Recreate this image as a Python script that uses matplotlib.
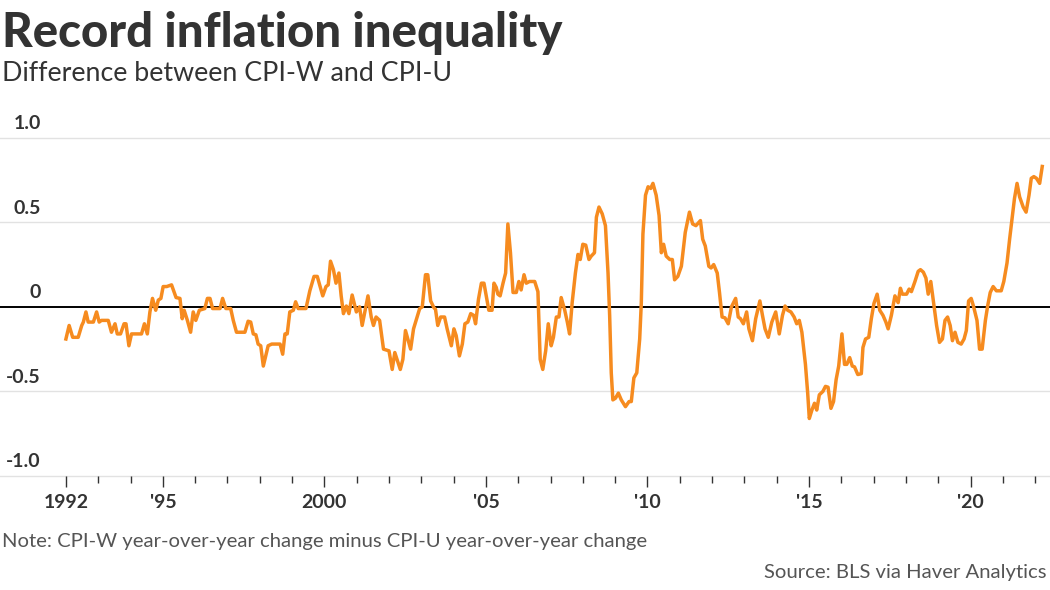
import matplotlib.pyplot as plt

# =========================================================
# Data: CPI-W yoy change minus CPI-U yoy change
# =========================================================
years = [
    1992.00, 1992.10, 1992.21, 1992.38, 1992.49, 1992.54, 1992.62, 1992.69, 1992.85, 1992.95,
    1993.03, 1993.10, 1993.31, 1993.41, 1993.52, 1993.59, 1993.69, 1993.80, 1993.86, 1993.95,
    1994.03, 1994.34, 1994.43, 1994.52, 1994.60, 1994.68, 1994.78, 1994.86, 1994.94, 1995.01,
    1995.12, 1995.27, 1995.41, 1995.53, 1995.60, 1995.66, 1995.76, 1995.86, 1995.94, 1996.02,
    1996.13, 1996.30, 1996.38, 1996.46, 1996.54, 1996.77, 1996.85, 1996.95, 1997.10, 1997.18,
    1997.28, 1997.54, 1997.64, 1997.72, 1997.80, 1997.88, 1997.95, 1998.03, 1998.11, 1998.26,
    1998.37, 1998.63, 1998.71, 1998.78, 1998.85, 1998.93, 1999.04, 1999.11, 1999.19, 1999.43,
    1999.55, 1999.68, 1999.78, 1999.95, 2000.05, 2000.12, 2000.19, 2000.28, 2000.36, 2000.45,
    2000.52, 2000.59, 2000.68, 2000.76, 2000.86, 2000.99, 2001.09, 2001.17, 2001.35, 2001.45,
    2001.52, 2001.60, 2001.71, 2001.83, 2002.00, 2002.10, 2002.18, 2002.35, 2002.43, 2002.51,
    2002.67, 2002.76, 2002.95, 2003.03, 2003.13, 2003.20, 2003.29, 2003.39, 2003.44, 2003.51,
    2003.60, 2003.72, 2003.80, 2003.93, 2004.01, 2004.08, 2004.18, 2004.27, 2004.35, 2004.44,
    2004.53, 2004.62, 2004.68, 2004.77, 2004.86, 2004.94, 2005.03, 2005.09, 2005.19, 2005.25,
    2005.32, 2005.37, 2005.44, 2005.53, 2005.61, 2005.68, 2005.76, 2005.84, 2005.94, 2006.02,
    2006.09, 2006.18, 2006.25, 2006.35, 2006.51, 2006.61, 2006.68, 2006.76, 2006.85, 2006.93,
    2007.02, 2007.09, 2007.18, 2007.26, 2007.33, 2007.44, 2007.52, 2007.59, 2007.67, 2007.77,
    2007.85, 2007.92, 2008.00, 2008.09, 2008.19, 2008.26, 2008.36, 2008.42, 2008.50, 2008.60,
    2008.70, 2008.78, 2008.83, 2008.88, 2008.93, 2009.01, 2009.10, 2009.19, 2009.32, 2009.43,
    2009.50, 2009.58, 2009.67, 2009.76, 2009.81, 2009.86, 2009.94, 2010.02, 2010.10, 2010.17,
    2010.27, 2010.36, 2010.43, 2010.50, 2010.58, 2010.69, 2010.77, 2010.84, 2010.94, 2011.05,
    2011.17, 2011.30, 2011.40, 2011.50, 2011.64, 2011.71, 2011.79, 2011.90, 2011.97, 2012.05,
    2012.16, 2012.23, 2012.31, 2012.40, 2012.50, 2012.60, 2012.73, 2012.81, 2012.88, 2012.97,
    2013.07, 2013.14, 2013.25, 2013.35, 2013.48, 2013.56, 2013.64, 2013.74, 2013.85, 2013.97,
    2014.08, 2014.18, 2014.26, 2014.34, 2014.44, 2014.54, 2014.62, 2014.70, 2014.78, 2014.89,
    2014.96, 2015.01, 2015.09, 2015.17, 2015.24, 2015.32, 2015.43, 2015.51, 2015.59, 2015.68,
    2015.76, 2015.84, 2015.92, 2016.02, 2016.10, 2016.17, 2016.26, 2016.34, 2016.41, 2016.51,
    2016.62, 2016.67, 2016.75, 2016.85, 2016.93, 2017.01, 2017.11, 2017.19, 2017.29, 2017.38,
    2017.45, 2017.55, 2017.66, 2017.76, 2017.83, 2017.89, 2018.02, 2018.10, 2018.17, 2018.28,
    2018.38, 2018.45, 2018.54, 2018.62, 2018.69, 2018.77, 2018.85, 2018.95, 2019.04, 2019.13,
    2019.21, 2019.29, 2019.37, 2019.44, 2019.52, 2019.61, 2019.71, 2019.80, 2019.87, 2019.94,
    2020.02, 2020.09, 2020.20, 2020.28, 2020.36, 2020.46, 2020.53, 2020.61, 2020.70, 2020.80,
    2020.95, 2021.03, 2021.13, 2021.21, 2021.29, 2021.36, 2021.44, 2021.52, 2021.63, 2021.72,
    2021.81, 2021.88, 2021.96, 2022.04, 2022.14, 2022.22,
]
values = [
    -0.19, -0.11, -0.18, -0.18, -0.11, -0.09, -0.03, -0.09, -0.09, -0.03,
    -0.09, -0.08, -0.08, -0.15, -0.10, -0.16, -0.16, -0.10, -0.10, -0.23,
    -0.16, -0.16, -0.10, -0.16, -0.03, 0.05, -0.02, 0.04, 0.05, 0.12,
    0.12, 0.13, 0.055, 0.05, -0.07, -0.02, -0.08, -0.15, -0.03, -0.08,
    -0.02, -0.01, 0.05, 0.05, -0.01, -0.01, 0.05, -0.01, -0.01, -0.08,
    -0.15, -0.15, -0.085, -0.09, -0.16, -0.165, -0.22, -0.23, -0.35, -0.23,
    -0.22, -0.22, -0.28, -0.16, -0.16, -0.03, -0.02, 0.03, -0.01, -0.01,
    0.095, 0.18, 0.18, 0.065, 0.12, 0.13, 0.27, 0.22, 0.14, 0.20,
    0.065, -0.04, 0.005, -0.04, 0.07, -0.03, 0.0, -0.11, 0.065, -0.06,
    -0.11, -0.06, -0.08, -0.25, -0.26, -0.37, -0.27, -0.37, -0.31, -0.14,
    -0.25, -0.13, -0.01, 0.0, 0.19, 0.19, 0.035, -0.005, -0.015, -0.11,
    -0.06, -0.06, -0.13, -0.23, -0.13, -0.17, -0.29, -0.22, -0.10, -0.09,
    -0.04, -0.05, -0.10, 0.045, 0.14, 0.14, 0.045, -0.02, -0.02, 0.14,
    0.115, 0.075, 0.065, 0.14, 0.20, 0.49, 0.32, 0.085, 0.085, 0.15,
    0.10, 0.19, 0.14, 0.15, 0.15, 0.09, -0.31, -0.37, -0.26, -0.10,
    -0.23, -0.18, -0.06, -0.06, 0.055, -0.02, -0.09, -0.16, 0.025, 0.20,
    0.31, 0.28, 0.37, 0.365, 0.28, 0.30, 0.32, 0.53, 0.59, 0.55,
    0.48, 0.20, -0.05, -0.39, -0.55, -0.54, -0.51, -0.55, -0.59, -0.56,
    -0.56, -0.42, -0.39, -0.19, 0.025, 0.43, 0.66, 0.71, 0.70, 0.73,
    0.66, 0.54, 0.32, 0.37, 0.30, 0.28, 0.28, 0.16, 0.18, 0.24,
    0.44, 0.56, 0.49, 0.48, 0.51, 0.40, 0.36, 0.24, 0.23, 0.25,
    0.20, 0.085, -0.06, -0.065, -0.10, 0.0, 0.05, -0.06, -0.07, -0.10,
    -0.03, -0.13, -0.20, -0.07, 0.035, -0.05, -0.13, -0.18, -0.09, -0.03,
    -0.16, -0.05, 0.005, -0.02, -0.03, -0.06, -0.10, -0.08, -0.15, -0.34,
    -0.51, -0.66, -0.61, -0.57, -0.61, -0.52, -0.50, -0.47, -0.475, -0.60,
    -0.56, -0.43, -0.35, -0.16, -0.34, -0.34, -0.30, -0.35, -0.355, -0.40,
    -0.395, -0.24, -0.19, -0.18, -0.07, 0.02, 0.075, -0.02, -0.05, -0.09,
    -0.13, -0.05, 0.065, 0.025, 0.11, 0.075, 0.075, 0.105, 0.09, 0.15,
    0.21, 0.22, 0.205, 0.17, 0.075, 0.15, 0.035, -0.11, -0.21, -0.19,
    -0.08, -0.06, -0.11, -0.20, -0.15, -0.21, -0.22, -0.19, -0.14, 0.035,
    0.05, 0.005, -0.08, -0.25, -0.25, -0.08, 0.005, 0.085, 0.12, 0.095,
    0.095, 0.15, 0.26, 0.40, 0.53, 0.64, 0.73, 0.65, 0.59, 0.56,
    0.66, 0.76, 0.77, 0.76, 0.73, 0.83,
]

y_ticks = [-1.0, -0.5, 0, 0.5, 1.0]
y_tick_labels = ["-1.0", "-0.5", "0", "0.5", "1.0"]
x_major = [1992, 1995, 2000, 2005, 2010, 2015, 2020]
x_major_labels = ["1992", "'95", "2000", "'05", "'10", "'15", "'20"]
x_minor = list(range(1992, 2023))

dark = "#333333"
orange = "#F68B1F"

plt.rcParams['font.family'] = ['Lato', 'DejaVu Sans']

# =========================================================
# Figure
# =========================================================
fig = plt.figure(figsize=(10.5, 5.9), dpi=100)
ax = fig.add_axes([0, 0.1932, 1, 0.5734])

ax.set_xlim(1989.96, 2022.46)
ax.set_ylim(-1, 1)

# gridlines + zero line
for yv in y_ticks:
    if yv == 0:
        continue
    ax.axhline(yv, color="#e2e2e2", lw=1.0, zorder=1, clip_on=False)
ax.axhline(0, color="black", lw=1.4, zorder=2)

ax.plot(years, values, color=orange, lw=2.5, solid_joinstyle="round", zorder=3)

# y labels sit above their gridline
ytrans = ax.get_yaxis_transform()
for yv, lab in zip(y_ticks, y_tick_labels):
    ax.annotate(lab, xy=(0.039, yv), xycoords=ytrans, xytext=(0, 4),
                textcoords="offset points", ha="right", va="bottom",
                fontsize=14, fontweight="bold", color=dark)

for s in ax.spines.values():
    s.set_visible(False)
ax.set_yticks([])

ax.set_xticks(x_major)
ax.set_xticklabels(x_major_labels)
ax.set_xticks(x_minor, minor=True)
ax.tick_params(axis="x", which="major", length=8, width=1, color=dark,
               pad=5, labelsize=14, labelcolor=dark)
ax.tick_params(axis="x", which="minor", length=5, width=1, color=dark)
for t in ax.get_xticklabels():
    t.set_fontweight("bold")

# =========================================================
# Titles and notes
# =========================================================
fig.text(0.002, 1 - 47 / 590, "Record inflation inequality", fontsize=34,
         fontweight="black", color=dark, va="baseline", ha="left")
fig.text(0.002, 1 - 81 / 590, "Difference between CPI-W and CPI-U", fontsize=19.3,
         color=dark, va="baseline", ha="left")
fig.text(0.002, 1 - 547 / 590,
         "Note: CPI-W year-over-year change minus CPI-U year-over-year change",
         fontsize=14.6, color="#555555", va="baseline", ha="left")
fig.text(0.997, 1 - 578 / 590, "Source: BLS via Haver Analytics", fontsize=14.6,
         color="#555555", va="baseline", ha="right")

plt.savefig("out.png", dpi=100)
